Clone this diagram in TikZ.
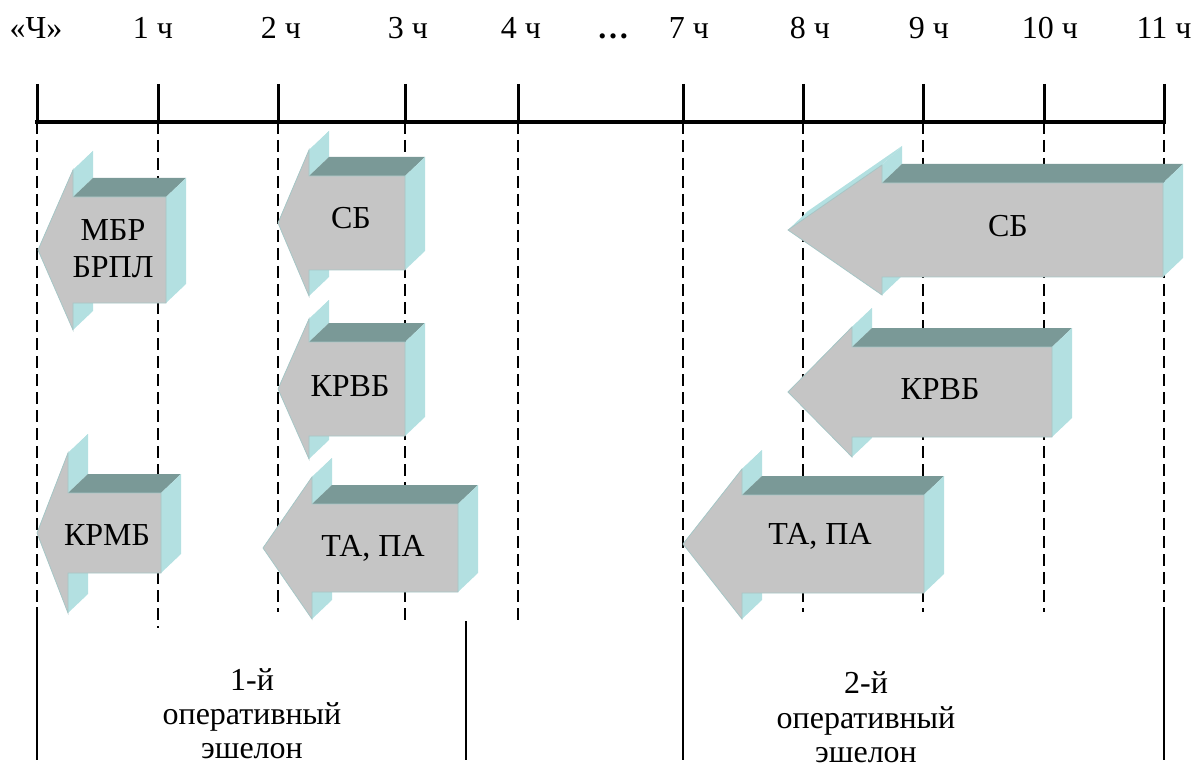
\documentclass[tikz,border=0pt]{standalone}
\usepackage{fontspec}
\setmainfont{Liberation Serif}
\usetikzlibrary{calc}
\definecolor{facegrey}{HTML}{C5C5C5}
\definecolor{topteal}{HTML}{7A9997}
\definecolor{sidecyan}{HTML}{B3E0E1}
\definecolor{edgeline}{HTML}{A6C6C6}

% extrusion of the 3D block arrows (right, up)
\newcommand{\ArrDX}{20}
\newcommand{\ArrDY}{19}
% #1 tip x, #2 axis y, #3 head back x, #4 head half-height, #5 shaft half-height, #6 tail x
\newcommand{\blockarrow}[6]{%
  \fill[sidecyan] (#1,#2) -- (#3,{#2-#4}) -- ({#3+\ArrDX},{#2-#4-\ArrDY}) -- ({#1+\ArrDX},{#2-\ArrDY}) -- cycle;
  \fill[sidecyan] (#3,{#2-#4}) -- ({#3+\ArrDX},{#2-#4-\ArrDY}) -- ({#3+\ArrDX},{#2-#5-\ArrDY}) -- (#3,{#2-#5}) -- cycle;
  \fill[sidecyan] (#3,{#2+#5}) -- ({#3+\ArrDX},{#2+#5-\ArrDY}) -- ({#3+\ArrDX},{#2+#4-\ArrDY}) -- (#3,{#2+#4}) -- cycle;
  \fill[topteal] (#3,{#2-#5}) -- ({#3+\ArrDX},{#2-#5-\ArrDY}) -- ({#6+\ArrDX},{#2-#5-\ArrDY}) -- (#6,{#2-#5}) -- cycle;
  \fill[sidecyan] (#6,{#2-#5}) -- ({#6+\ArrDX},{#2-#5-\ArrDY}) -- ({#6+\ArrDX},{#2+#5-\ArrDY}) -- (#6,{#2+#5}) -- cycle;
  \filldraw[fill=facegrey, draw=edgeline, line width=0.8pt, line join=miter]
    (#1,#2) -- (#3,{#2-#4}) -- (#3,{#2-#5}) -- (#6,{#2-#5}) -- (#6,{#2+#5}) -- (#3,{#2+#5}) -- (#3,{#2+#4}) -- cycle;
}

\tikzset{
  txt/.style={font=\fontsize{32}{37}\selectfont, inner sep=0pt, align=center},
  hourlabel/.style={txt, anchor=base},
  echelon/.style={txt, anchor=base},
  guide/.style={line width=1.8pt, dash pattern=on 12pt off 6pt},
  rule/.style={line width=1.8pt},
}

\begin{document}
\begin{tikzpicture}[x=1pt, y=-1pt]
\useasboundingbox (0,0) rectangle (1196,767);

% time axis with hour ticks
\draw[line width=4pt] (35,122) -- (1166,122);
\foreach \px/\nm in {37/h0,158/h1,278/h2,405/h3,518/h4,683/h7,803/h8,923/h9,1044/h10,1164/h11}{
  \coordinate (\nm) at (\px,122);
  \draw[line width=3pt] (\px,84) -- (\nm);
}

% dashed guides below the axis
\foreach \nm/\ybot in {h0/604,h1/628,h2/612,h3/622,h4/622,h7/604,h8/612,h9/612,h10/612,h11/604}{
  \coordinate (\nm-end) at ($(\nm)+(0,\ybot-122)$);
  \draw[guide] (\nm) -- (\nm-end);
}

% hour labels
\node[hourlabel] (l0) at (36,39) {«Ч»};
\node[hourlabel] (l1) at (153,39) {1 ч};
\node[hourlabel] (l2) at (281,39) {2 ч};
\node[hourlabel] (l3) at (408,39) {3 ч};
\node[hourlabel] (l4) at (521,39) {4 ч};
\node[hourlabel] (ldots) at (613,39) {\textbf{…}};
\node[hourlabel] (l7) at (689,39) {7 ч};
\node[hourlabel] (l8) at (810,39) {8 ч};
\node[hourlabel] (l9) at (929,39) {9 ч};
\node[hourlabel] (l10) at (1050,39) {10 ч};
\node[hourlabel] (l11) at (1164,39) {11 ч};

% first echelon
\blockarrow{38}{250}{73}{80}{53}{166}
\node[txt] (mbr) at (113,249) {МБР\\БРПЛ};
\blockarrow{278}{223}{309}{73}{47}{405}
\node[txt] (sb1) at (351,218) {СБ};
\blockarrow{278}{389}{309}{70}{47}{405}
\node[txt] (krvb1) at (350,386) {КРВБ};
\blockarrow{37}{533}{68}{80}{40}{161}
\node[txt] (krmb) at (107,535) {КРМБ};
\blockarrow{263}{548}{312}{71}{44}{458}
\node[txt] (tapa1) at (373,548) {ТА, ПА};

% second echelon
\blockarrow{788}{230}{882}{65}{47}{1163}
\node[txt] (sb2) at (1008,226) {СБ};
\blockarrow{788}{392}{852}{65}{45}{1052}
\node[txt] (krvb2) at (940,389) {КРВБ};
\blockarrow{683}{544}{742}{75}{49}{924}
\node[txt] (tapa2) at (820,536) {ТА, ПА};

% echelon boundaries
\coordinate (b0t) at (37,607);   \coordinate (b0b) at (37,760);
\coordinate (b1t) at (466,621);  \coordinate (b1b) at (466,760);
\coordinate (b2t) at (683,607);  \coordinate (b2b) at (683,760);
\coordinate (b3t) at (1164,607); \coordinate (b3b) at (1164,760);
\draw[rule] (b0t) -- (b0b);
\draw[rule] (b1t) -- (b1b);
\draw[rule] (b2t) -- (b2b);
\draw[rule] (b3t) -- (b3b);

% echelon captions
\node[echelon] (ech1a) at (252,690) {1-й};
\node[echelon] (ech1b) at (252,724) {оперативный};
\node[echelon] (ech1c) at (252,758) {эшелон};
\node[echelon] (ech2a) at (866,693) {2-й};
\node[echelon] (ech2b) at (866,728) {оперативный};
\node[echelon] (ech2c) at (866,762) {эшелон};
\end{tikzpicture}
\end{document}
